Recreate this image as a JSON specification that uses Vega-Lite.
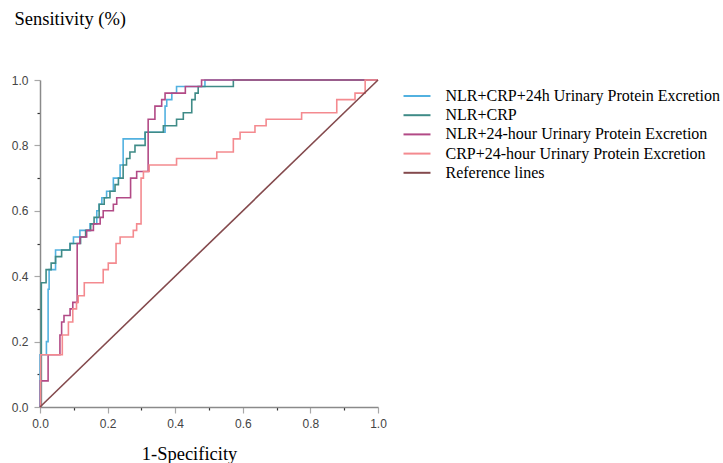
{
  "$schema": "https://vega.github.io/schema/vega-lite/v6.json",
  "autosize": {"type": "none"},
  "width": 338,
  "height": 327,
  "padding": {"left": 40, "top": 80, "right": 345, "bottom": 56},
  "config": {"view": {"stroke": null}},
  "datasets": {
    "roc": [
      {"series": "NLR+CRP+24h Urinary Protein Excretion", "i": 1, "fpr": 0, "tpr": 0},
      {"series": "NLR+CRP+24h Urinary Protein Excretion", "i": 2, "fpr": 0, "tpr": 0.16},
      {"series": "NLR+CRP+24h Urinary Protein Excretion", "i": 3, "fpr": 0.019, "tpr": 0.2},
      {"series": "NLR+CRP+24h Urinary Protein Excretion", "i": 4, "fpr": 0.024, "tpr": 0.36},
      {"series": "NLR+CRP+24h Urinary Protein Excretion", "i": 5, "fpr": 0.027, "tpr": 0.42},
      {"series": "NLR+CRP+24h Urinary Protein Excretion", "i": 6, "fpr": 0.046, "tpr": 0.48},
      {"series": "NLR+CRP+24h Urinary Protein Excretion", "i": 7, "fpr": 0.089, "tpr": 0.5},
      {"series": "NLR+CRP+24h Urinary Protein Excretion", "i": 8, "fpr": 0.099, "tpr": 0.52},
      {"series": "NLR+CRP+24h Urinary Protein Excretion", "i": 9, "fpr": 0.118, "tpr": 0.54},
      {"series": "NLR+CRP+24h Urinary Protein Excretion", "i": 10, "fpr": 0.148, "tpr": 0.56},
      {"series": "NLR+CRP+24h Urinary Protein Excretion", "i": 11, "fpr": 0.168, "tpr": 0.6},
      {"series": "NLR+CRP+24h Urinary Protein Excretion", "i": 12, "fpr": 0.175, "tpr": 0.62},
      {"series": "NLR+CRP+24h Urinary Protein Excretion", "i": 13, "fpr": 0.183, "tpr": 0.64},
      {"series": "NLR+CRP+24h Urinary Protein Excretion", "i": 14, "fpr": 0.197, "tpr": 0.66},
      {"series": "NLR+CRP+24h Urinary Protein Excretion", "i": 15, "fpr": 0.217, "tpr": 0.7},
      {"series": "NLR+CRP+24h Urinary Protein Excretion", "i": 16, "fpr": 0.237, "tpr": 0.74},
      {"series": "NLR+CRP+24h Urinary Protein Excretion", "i": 17, "fpr": 0.246, "tpr": 0.82},
      {"series": "NLR+CRP+24h Urinary Protein Excretion", "i": 18, "fpr": 0.311, "tpr": 0.84},
      {"series": "NLR+CRP+24h Urinary Protein Excretion", "i": 19, "fpr": 0.37, "tpr": 0.92},
      {"series": "NLR+CRP+24h Urinary Protein Excretion", "i": 20, "fpr": 0.375, "tpr": 0.94},
      {"series": "NLR+CRP+24h Urinary Protein Excretion", "i": 21, "fpr": 0.39, "tpr": 0.96},
      {"series": "NLR+CRP+24h Urinary Protein Excretion", "i": 22, "fpr": 0.404, "tpr": 0.98},
      {"series": "NLR+CRP+24h Urinary Protein Excretion", "i": 23, "fpr": 0.488, "tpr": 1.0},
      {"series": "NLR+CRP+24h Urinary Protein Excretion", "i": 24, "fpr": 1.0, "tpr": 1.0},

      {"series": "NLR+CRP", "i": 1, "fpr": 0, "tpr": 0},
      {"series": "NLR+CRP", "i": 2, "fpr": 0.004, "tpr": 0.38},
      {"series": "NLR+CRP", "i": 3, "fpr": 0.018, "tpr": 0.42},
      {"series": "NLR+CRP", "i": 4, "fpr": 0.033, "tpr": 0.44},
      {"series": "NLR+CRP", "i": 5, "fpr": 0.046, "tpr": 0.46},
      {"series": "NLR+CRP", "i": 6, "fpr": 0.064, "tpr": 0.48},
      {"series": "NLR+CRP", "i": 7, "fpr": 0.089, "tpr": 0.5},
      {"series": "NLR+CRP", "i": 8, "fpr": 0.12, "tpr": 0.52},
      {"series": "NLR+CRP", "i": 9, "fpr": 0.135, "tpr": 0.54},
      {"series": "NLR+CRP", "i": 10, "fpr": 0.15, "tpr": 0.56},
      {"series": "NLR+CRP", "i": 11, "fpr": 0.16, "tpr": 0.58},
      {"series": "NLR+CRP", "i": 12, "fpr": 0.175, "tpr": 0.62},
      {"series": "NLR+CRP", "i": 13, "fpr": 0.19, "tpr": 0.64},
      {"series": "NLR+CRP", "i": 14, "fpr": 0.207, "tpr": 0.66},
      {"series": "NLR+CRP", "i": 15, "fpr": 0.222, "tpr": 0.68},
      {"series": "NLR+CRP", "i": 16, "fpr": 0.232, "tpr": 0.7},
      {"series": "NLR+CRP", "i": 17, "fpr": 0.246, "tpr": 0.74},
      {"series": "NLR+CRP", "i": 18, "fpr": 0.256, "tpr": 0.76},
      {"series": "NLR+CRP", "i": 19, "fpr": 0.266, "tpr": 0.78},
      {"series": "NLR+CRP", "i": 20, "fpr": 0.281, "tpr": 0.8},
      {"series": "NLR+CRP", "i": 21, "fpr": 0.311, "tpr": 0.84},
      {"series": "NLR+CRP", "i": 22, "fpr": 0.365, "tpr": 0.86},
      {"series": "NLR+CRP", "i": 23, "fpr": 0.404, "tpr": 0.88},
      {"series": "NLR+CRP", "i": 24, "fpr": 0.424, "tpr": 0.9},
      {"series": "NLR+CRP", "i": 25, "fpr": 0.449, "tpr": 0.94},
      {"series": "NLR+CRP", "i": 26, "fpr": 0.459, "tpr": 0.96},
      {"series": "NLR+CRP", "i": 27, "fpr": 0.468, "tpr": 0.98},
      {"series": "NLR+CRP", "i": 28, "fpr": 0.572, "tpr": 1.0},
      {"series": "NLR+CRP", "i": 29, "fpr": 1.0, "tpr": 1.0},

      {"series": "NLR+24-hour Urinary Protein Excretion", "i": 1, "fpr": 0, "tpr": 0},
      {"series": "NLR+24-hour Urinary Protein Excretion", "i": 2, "fpr": 0.001, "tpr": 0.08},
      {"series": "NLR+24-hour Urinary Protein Excretion", "i": 3, "fpr": 0.024, "tpr": 0.16},
      {"series": "NLR+24-hour Urinary Protein Excretion", "i": 4, "fpr": 0.059, "tpr": 0.22},
      {"series": "NLR+24-hour Urinary Protein Excretion", "i": 5, "fpr": 0.064, "tpr": 0.26},
      {"series": "NLR+24-hour Urinary Protein Excretion", "i": 6, "fpr": 0.071, "tpr": 0.28},
      {"series": "NLR+24-hour Urinary Protein Excretion", "i": 7, "fpr": 0.089, "tpr": 0.3},
      {"series": "NLR+24-hour Urinary Protein Excretion", "i": 8, "fpr": 0.097, "tpr": 0.32},
      {"series": "NLR+24-hour Urinary Protein Excretion", "i": 9, "fpr": 0.11, "tpr": 0.5},
      {"series": "NLR+24-hour Urinary Protein Excretion", "i": 10, "fpr": 0.118, "tpr": 0.52},
      {"series": "NLR+24-hour Urinary Protein Excretion", "i": 11, "fpr": 0.138, "tpr": 0.54},
      {"series": "NLR+24-hour Urinary Protein Excretion", "i": 12, "fpr": 0.158, "tpr": 0.56},
      {"series": "NLR+24-hour Urinary Protein Excretion", "i": 13, "fpr": 0.178, "tpr": 0.58},
      {"series": "NLR+24-hour Urinary Protein Excretion", "i": 14, "fpr": 0.187, "tpr": 0.6},
      {"series": "NLR+24-hour Urinary Protein Excretion", "i": 15, "fpr": 0.217, "tpr": 0.62},
      {"series": "NLR+24-hour Urinary Protein Excretion", "i": 16, "fpr": 0.227, "tpr": 0.64},
      {"series": "NLR+24-hour Urinary Protein Excretion", "i": 17, "fpr": 0.268, "tpr": 0.7},
      {"series": "NLR+24-hour Urinary Protein Excretion", "i": 18, "fpr": 0.286, "tpr": 0.72},
      {"series": "NLR+24-hour Urinary Protein Excretion", "i": 19, "fpr": 0.32, "tpr": 0.88},
      {"series": "NLR+24-hour Urinary Protein Excretion", "i": 20, "fpr": 0.34, "tpr": 0.92},
      {"series": "NLR+24-hour Urinary Protein Excretion", "i": 21, "fpr": 0.36, "tpr": 0.94},
      {"series": "NLR+24-hour Urinary Protein Excretion", "i": 22, "fpr": 0.37, "tpr": 0.96},
      {"series": "NLR+24-hour Urinary Protein Excretion", "i": 23, "fpr": 0.43, "tpr": 0.98},
      {"series": "NLR+24-hour Urinary Protein Excretion", "i": 24, "fpr": 0.478, "tpr": 1.0},
      {"series": "NLR+24-hour Urinary Protein Excretion", "i": 25, "fpr": 1.0, "tpr": 1.0},

      {"series": "CRP+24-hour Urinary Protein Excretion", "i": 1, "fpr": 0, "tpr": 0},
      {"series": "CRP+24-hour Urinary Protein Excretion", "i": 2, "fpr": 0.002, "tpr": 0.16},
      {"series": "CRP+24-hour Urinary Protein Excretion", "i": 3, "fpr": 0.066, "tpr": 0.22},
      {"series": "CRP+24-hour Urinary Protein Excretion", "i": 4, "fpr": 0.084, "tpr": 0.26},
      {"series": "CRP+24-hour Urinary Protein Excretion", "i": 5, "fpr": 0.097, "tpr": 0.3},
      {"series": "CRP+24-hour Urinary Protein Excretion", "i": 6, "fpr": 0.108, "tpr": 0.32},
      {"series": "CRP+24-hour Urinary Protein Excretion", "i": 7, "fpr": 0.113, "tpr": 0.34},
      {"series": "CRP+24-hour Urinary Protein Excretion", "i": 8, "fpr": 0.131, "tpr": 0.38},
      {"series": "CRP+24-hour Urinary Protein Excretion", "i": 9, "fpr": 0.187, "tpr": 0.42},
      {"series": "CRP+24-hour Urinary Protein Excretion", "i": 10, "fpr": 0.202, "tpr": 0.44},
      {"series": "CRP+24-hour Urinary Protein Excretion", "i": 11, "fpr": 0.225, "tpr": 0.5},
      {"series": "CRP+24-hour Urinary Protein Excretion", "i": 12, "fpr": 0.237, "tpr": 0.52},
      {"series": "CRP+24-hour Urinary Protein Excretion", "i": 13, "fpr": 0.276, "tpr": 0.54},
      {"series": "CRP+24-hour Urinary Protein Excretion", "i": 14, "fpr": 0.286, "tpr": 0.56},
      {"series": "CRP+24-hour Urinary Protein Excretion", "i": 15, "fpr": 0.299, "tpr": 0.7},
      {"series": "CRP+24-hour Urinary Protein Excretion", "i": 16, "fpr": 0.306, "tpr": 0.72},
      {"series": "CRP+24-hour Urinary Protein Excretion", "i": 17, "fpr": 0.323, "tpr": 0.74},
      {"series": "CRP+24-hour Urinary Protein Excretion", "i": 18, "fpr": 0.404, "tpr": 0.76},
      {"series": "CRP+24-hour Urinary Protein Excretion", "i": 19, "fpr": 0.523, "tpr": 0.78},
      {"series": "CRP+24-hour Urinary Protein Excretion", "i": 20, "fpr": 0.572, "tpr": 0.82},
      {"series": "CRP+24-hour Urinary Protein Excretion", "i": 21, "fpr": 0.592, "tpr": 0.84},
      {"series": "CRP+24-hour Urinary Protein Excretion", "i": 22, "fpr": 0.636, "tpr": 0.86},
      {"series": "CRP+24-hour Urinary Protein Excretion", "i": 23, "fpr": 0.669, "tpr": 0.88},
      {"series": "CRP+24-hour Urinary Protein Excretion", "i": 24, "fpr": 0.774, "tpr": 0.9},
      {"series": "CRP+24-hour Urinary Protein Excretion", "i": 25, "fpr": 0.878, "tpr": 0.94},
      {"series": "CRP+24-hour Urinary Protein Excretion", "i": 26, "fpr": 0.932, "tpr": 0.96},
      {"series": "CRP+24-hour Urinary Protein Excretion", "i": 27, "fpr": 0.962, "tpr": 1.0},
      {"series": "CRP+24-hour Urinary Protein Excretion", "i": 28, "fpr": 1.0, "tpr": 1.0}
    ],
    "ref": [
      {"series": "Reference lines", "fpr": 0, "tpr": 0},
      {"series": "Reference lines", "fpr": 1, "tpr": 1}
    ]
  },
  "layer": [
    {
      "data": {"name": "roc"},
      "mark": {"type": "line", "interpolate": "step-after", "strokeWidth": 1.6},
      "encoding": {
        "x": {"field": "fpr", "type": "quantitative"},
        "y": {"field": "tpr", "type": "quantitative"},
        "order": {"field": "i", "type": "quantitative"},
        "color": {"field": "series", "type": "nominal"}
      }
    },
    {
      "data": {"name": "ref"},
      "mark": {"type": "line", "strokeWidth": 1.6},
      "encoding": {
        "x": {"field": "fpr", "type": "quantitative"},
        "y": {"field": "tpr", "type": "quantitative"},
        "color": {"field": "series", "type": "nominal"}
      }
    }
  ],
  "encoding": {
    "x": {
      "field": "fpr", "type": "quantitative",
      "scale": {"domain": [0, 1], "nice": false, "zero": false},
      "axis": {
        "title": "1-Specificity",
        "titleFont": "Liberation Serif", "titleFontSize": 18.5, "titleFontWeight": "normal", "titleColor": "#000000",
        "titleX": 149, "titleY": 46, "titleAlign": "center", "titleBaseline": "middle",
        "values": [0, 0.1, 0.2, 0.3, 0.4, 0.5, 0.6, 0.7, 0.8, 0.9, 1.0],
        "labelExpr": "round(datum.value*10) % 2 === 0 ? format(datum.value, '.1f') : ''",
        "labelFont": "Liberation Sans", "labelFontSize": 12, "labelColor": "#444444", "labelPadding": 5,
        "labelFlush": false, "labelOverlap": false,
        "grid": false,
        "domainColor": "#8a8a8a", "domainWidth": 1.5,
        "tickColor": {"condition": {"test": "round(datum.value*10) % 2 === 0", "value": "#a8a8a8"}, "value": "#333333"},
        "tickSize": {"condition": {"test": "round(datum.value*10) % 2 === 0", "value": 6}, "value": 3},
        "tickWidth": 1.2
      }
    },
    "y": {
      "field": "tpr", "type": "quantitative",
      "scale": {"domain": [0, 1], "nice": false, "zero": false},
      "axis": {
        "title": "Sensitivity (%)",
        "titleFont": "Liberation Serif", "titleFontSize": 18.5, "titleFontWeight": "normal", "titleColor": "#000000",
        "titleAngle": 0, "titleX": -26, "titleY": -62, "titleAlign": "left", "titleBaseline": "middle",
        "values": [0, 0.1, 0.2, 0.3, 0.4, 0.5, 0.6, 0.7, 0.8, 0.9, 1.0],
        "labelExpr": "round(datum.value*10) % 2 === 0 ? format(datum.value, '.1f') : ''",
        "labelFont": "Liberation Sans", "labelFontSize": 12, "labelColor": "#444444", "labelPadding": 6,
        "labelFlush": false, "labelOverlap": false,
        "grid": false,
        "domainColor": "#8a8a8a", "domainWidth": 1.5,
        "tickColor": {"condition": {"test": "round(datum.value*10) % 2 === 0", "value": "#a8a8a8"}, "value": "#333333"},
        "tickSize": {"condition": {"test": "round(datum.value*10) % 2 === 0", "value": 6}, "value": 3},
        "tickWidth": 1.2
      }
    },
    "color": {
      "field": "series", "type": "nominal",
      "scale": {
        "domain": ["NLR+CRP+24h Urinary Protein Excretion", "NLR+CRP", "NLR+24-hour Urinary Protein Excretion", "CRP+24-hour Urinary Protein Excretion", "Reference lines"],
        "range": ["#52B1E0", "#3F8B87", "#B24A86", "#F48A8F", "#844A4D"]
      },
      "legend": {
        "title": null,
        "orient": "none", "legendX": 369, "legendY": 8,
        "symbolType": "M-2,0H2", "symbolSize": 182, "symbolStrokeWidth": 2,
        "symbolFillColor": "transparent",
        "labelFont": "Liberation Serif", "labelFontSize": 16, "labelColor": "#000000",
        "labelOffset": 20.5, "rowPadding": 3.2, "padding": 0, "labelLimit": 400
      }
    }
  }
}
